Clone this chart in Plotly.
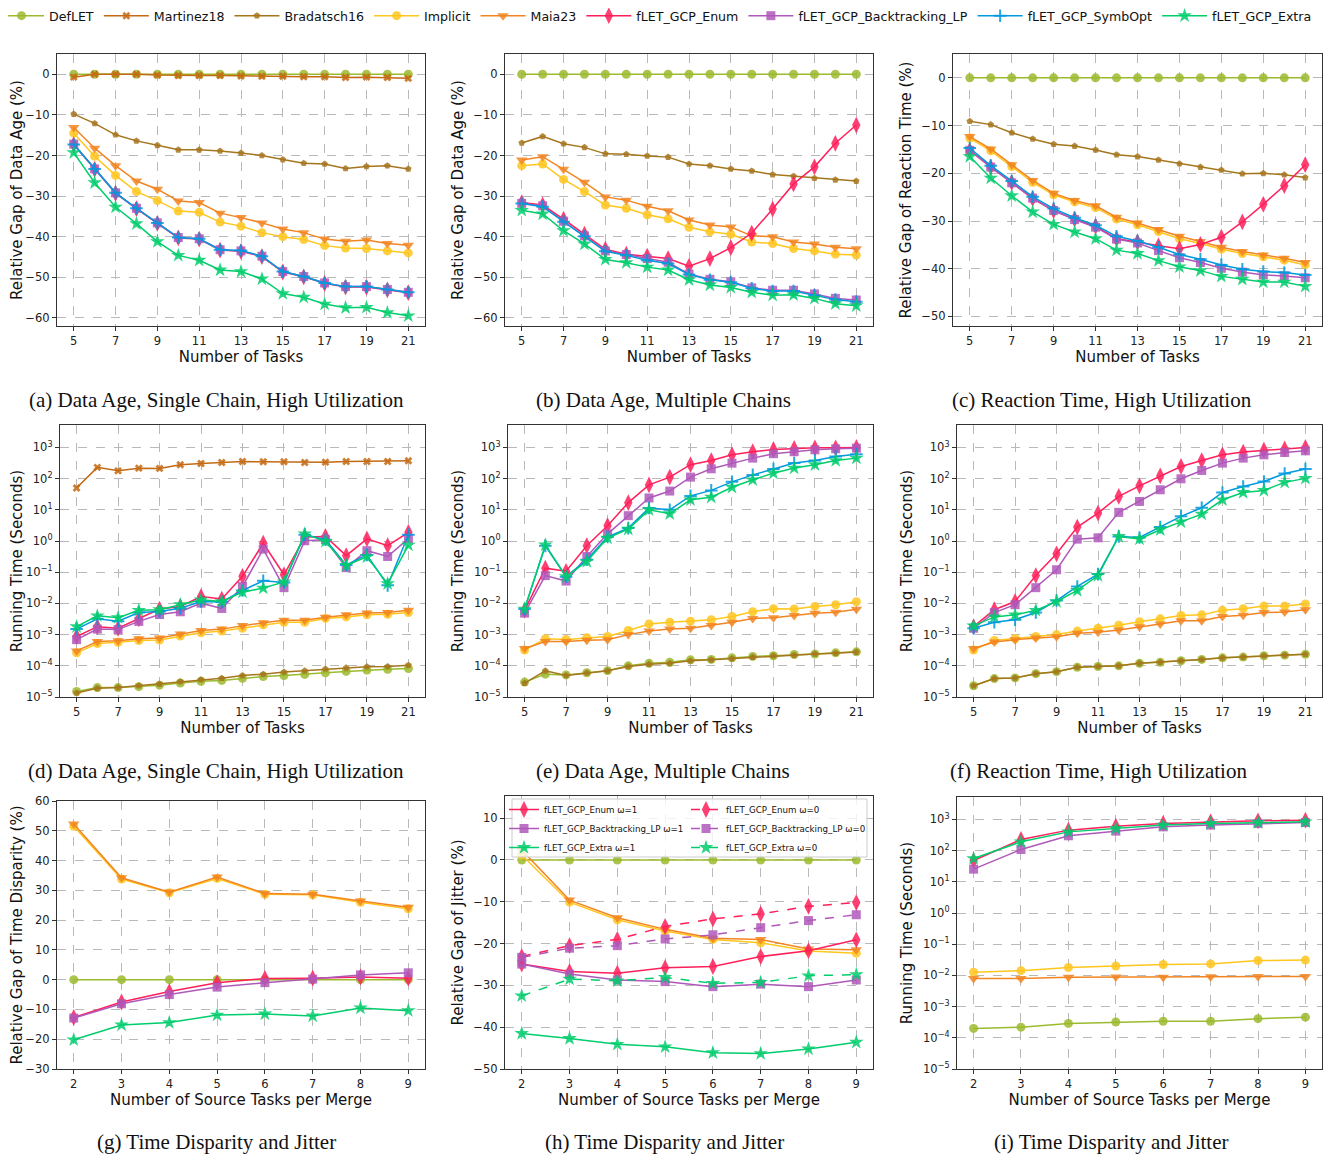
import plotly.graph_objects as go
from plotly.subplots import make_subplots

# ---------------- data ----------------
tasks = [5, 6, 7, 8, 9, 10, 11, 12, 13, 14, 15, 16, 17, 18, 19, 20, 21]
sources = [2, 3, 4, 5, 6, 7, 8, 9]

# (a) Data Age, Single Chain, High Utilization (relative gap %)
a_deflet = [0, 0, 0, 0, 0, 0, 0, 0, 0, 0, 0, 0, 0, 0, 0, 0, 0]
a_martinez = [-0.7, 0.0, 0.0, 0.0, -0.2, -0.3, -0.3, -0.3, -0.4, -0.5, -0.5, -0.6, -0.6, -0.8, -0.7, -0.8, -1.0]
a_bradatsch = [-9.8, -12.1, -14.9, -16.4, -17.5, -18.6, -18.6, -18.9, -19.4, -20.0, -21.0, -21.9, -22.1, -23.2, -22.7, -22.5, -23.3]
a_implicit = [-14.5, -20.2, -24.9, -28.9, -31.1, -33.7, -34.0, -36.4, -37.4, -39.0, -40.0, -40.7, -42.2, -42.8, -42.9, -43.5, -44.0]
a_maia = [-13.1, -18.2, -22.5, -26.3, -28.3, -31.2, -31.6, -34.2, -35.3, -36.6, -38.1, -39.0, -40.6, -41.1, -40.8, -41.7, -42.1]
a_enum = [-17.3, -23.4, -29.3, -33.1, -36.7, -40.3, -40.6, -43.3, -43.6, -44.9, -48.7, -49.9, -51.5, -52.4, -52.4, -53.1, -53.8]
a_bt = [-17.2, -23.3, -29.2, -33.0, -36.6, -40.2, -40.5, -43.2, -43.5, -44.8, -48.6, -49.8, -51.4, -52.3, -52.3, -53.0, -53.7]
a_symbopt = [-17.3, -23.3, -29.2, -33.0, -36.6, -40.2, -40.5, -43.2, -43.4, -44.8, -48.6, -49.8, -51.4, -52.3, -52.3, -53.0, -53.7]
a_extra = [-19.3, -26.7, -32.7, -36.8, -41.2, -44.6, -45.8, -48.2, -48.6, -50.4, -54.0, -54.9, -56.6, -57.5, -57.4, -58.7, -59.5]

# (b) Data Age, Multiple Chains
b_deflet = [0, 0, 0, 0, 0, 0, 0, 0, 0, 0, 0, 0, 0, 0, 0, 0, 0]
b_bradatsch = [-16.9, -15.3, -17.1, -18.0, -19.6, -19.7, -20.1, -20.4, -22.1, -22.5, -23.3, -23.8, -24.7, -25.1, -25.6, -26.0, -26.3]
b_implicit = [-22.5, -22.1, -25.9, -28.9, -32.2, -33.0, -34.6, -35.6, -37.7, -38.8, -39.4, -41.3, -41.7, -42.9, -43.5, -44.3, -44.5]
b_maia = [-21.1, -20.3, -23.4, -26.6, -30.2, -31.0, -32.5, -33.6, -35.9, -37.1, -37.6, -39.8, -40.0, -41.3, -41.8, -42.6, -43.0]
b_enum = [-31.6, -32.2, -35.7, -39.4, -43.1, -44.3, -44.8, -45.4, -47.3, -45.4, -42.7, -39.1, -33.2, -27.0, -22.8, -17.0, -12.5]
b_bt = [-31.8, -32.4, -36.2, -39.8, -43.5, -44.4, -45.4, -46.3, -49.2, -50.5, -51.1, -52.6, -53.2, -53.2, -54.1, -55.2, -55.6]
b_symbopt = [-31.8, -32.6, -36.3, -39.9, -43.6, -44.6, -45.8, -46.6, -49.3, -50.6, -51.2, -52.7, -53.4, -53.4, -54.4, -55.5, -56.0]
b_extra = [-33.5, -34.4, -38.5, -41.8, -45.6, -46.4, -47.5, -48.2, -50.6, -51.9, -52.5, -53.7, -54.4, -54.3, -55.2, -56.5, -57.0]

# (c) Reaction Time, High Utilization
c_deflet = [0, 0, 0, 0, 0, 0, 0, 0, 0, 0, 0, 0, 0, 0, 0, 0, 0]
c_bradatsch = [-9.1, -9.8, -11.5, -12.8, -13.9, -14.3, -15.1, -16.1, -16.5, -17.2, -18.0, -18.7, -19.3, -20.1, -20.0, -20.3, -20.9]
c_implicit = [-12.6, -15.3, -18.6, -21.9, -24.5, -26.0, -27.2, -29.6, -30.8, -32.2, -33.7, -34.7, -35.9, -36.8, -37.5, -38.2, -39.2]
c_maia = [-12.3, -14.9, -18.2, -21.5, -24.2, -25.7, -26.8, -29.2, -30.4, -31.8, -33.2, -34.3, -35.5, -36.4, -37.1, -37.8, -38.7]
c_enum = [-15.2, -18.7, -21.9, -25.3, -27.8, -29.6, -31.1, -33.7, -34.4, -35.2, -35.8, -34.9, -33.4, -30.2, -26.5, -22.6, -18.2]
c_bt = [-15.2, -18.7, -22.0, -25.2, -27.8, -29.7, -31.3, -33.8, -34.6, -36.2, -37.7, -38.7, -39.9, -40.7, -41.3, -41.5, -41.9]
c_symbopt = [-14.7, -18.4, -21.6, -24.9, -27.4, -29.3, -30.9, -33.2, -34.2, -35.5, -37.0, -38.0, -39.2, -40.1, -40.6, -40.8, -41.3]
c_extra = [-16.5, -21.0, -24.7, -28.1, -30.7, -32.3, -33.7, -36.1, -36.8, -38.3, -39.6, -40.4, -41.6, -42.2, -42.8, -42.8, -43.7]

# (d) Running time (s), Data Age, Single Chain
d_deflet = [1.5e-5, 2.0e-5, 2.0e-5, 2.15e-5, 2.4e-5, 2.8e-5, 3.2e-5, 3.4e-5, 4.0e-5, 4.5e-5, 4.9e-5, 5.3e-5, 6.0e-5, 6.6e-5, 7.3e-5, 7.7e-5, 8.2e-5]
d_martinez = [50, 230, 178, 217, 213, 278, 307, 330, 356, 347, 347, 330, 338, 356, 356, 356, 374]
d_bradatsch = [1.35e-5, 1.9e-5, 2.0e-5, 2.3e-5, 2.6e-5, 3.1e-5, 3.6e-5, 4.0e-5, 4.9e-5, 5.4e-5, 6.3e-5, 6.9e-5, 7.9e-5, 8.6e-5, 9.3e-5, 9.5e-5, 1.05e-4]
d_implicit = [2.6e-4, 5.2e-4, 5.7e-4, 6.5e-4, 6.7e-4, 9.0e-4, 1.15e-3, 1.3e-3, 1.6e-3, 2.05e-3, 2.5e-3, 2.5e-3, 3.3e-3, 3.7e-3, 4.3e-3, 4.5e-3, 5.1e-3]
d_maia = [3.0e-4, 6.0e-4, 6.3e-4, 7.4e-4, 7.8e-4, 1.05e-3, 1.35e-3, 1.5e-3, 1.95e-3, 2.4e-3, 2.9e-3, 2.9e-3, 3.6e-3, 4.3e-3, 4.9e-3, 5.1e-3, 6.0e-3]
d_enum = [8.7e-4, 1.8e-3, 1.6e-3, 3.2e-3, 6.6e-3, 8.0e-3, 0.0166, 0.0138, 0.074, 0.85, 0.083, 1.35, 1.4, 0.34, 1.17, 0.71, 1.9]
d_bt = [6.9e-4, 1.5e-3, 1.45e-3, 2.65e-3, 4.4e-3, 5.4e-3, 0.0102, 6.9e-3, 0.035, 0.55, 0.032, 1.02, 1.1, 0.14, 0.49, 0.32, 1.2]
d_symbopt = [1.5e-3, 3.2e-3, 2.7e-3, 5.1e-3, 5.5e-3, 7.0e-3, 0.0115, 0.0112, 0.026, 0.053, 0.047, 1.6, 1.1, 0.17, 0.36, 0.038, 1.6]
d_extra = [1.8e-3, 4.0e-3, 3.5e-3, 6.0e-3, 6.3e-3, 9.1e-3, 0.013, 0.0115, 0.023, 0.031, 0.049, 1.7, 0.98, 0.165, 0.31, 0.043, 0.74]

# (e) Running time (s), Data Age, Multiple Chains
e_deflet = [3.0e-5, 5.4e-5, 5.1e-5, 6.0e-5, 7.0e-5, 1.0e-4, 1.2e-4, 1.3e-4, 1.55e-4, 1.6e-4, 1.8e-4, 2.0e-4, 2.1e-4, 2.3e-4, 2.4e-4, 2.6e-4, 2.8e-4]
e_bradatsch = [2.8e-5, 6.9e-5, 4.9e-5, 5.9e-5, 6.9e-5, 9.5e-5, 1.12e-4, 1.2e-4, 1.45e-4, 1.55e-4, 1.7e-4, 1.9e-4, 2.1e-4, 2.2e-4, 2.4e-4, 2.55e-4, 2.75e-4]
e_implicit = [3.2e-4, 7.4e-4, 7.0e-4, 8.0e-4, 8.7e-4, 1.35e-3, 2.2e-3, 2.5e-3, 2.7e-3, 3.0e-3, 3.8e-3, 5.4e-3, 6.8e-3, 6.6e-3, 8.0e-3, 9.1e-3, 0.0113]
e_maia = [3.6e-4, 6.0e-4, 6.0e-4, 6.6e-4, 6.8e-4, 1.0e-3, 1.3e-3, 1.5e-3, 1.6e-3, 1.95e-3, 2.5e-3, 3.3e-3, 3.5e-3, 4.1e-3, 4.8e-3, 5.2e-3, 6.5e-3]
e_enum = [6.0e-3, 0.135, 0.107, 0.71, 3.1, 17, 63, 112, 280, 380, 580, 730, 860, 930, 975, 975, 1000]
e_bt = [4.9e-3, 0.078, 0.052, 0.32, 1.7, 6.5, 24, 40, 112, 207, 315, 455, 630, 730, 840, 905, 950]
e_symbopt = [6.6e-3, 0.7, 0.072, 0.25, 1.35, 2.6, 11.5, 10, 28, 42, 79, 132, 203, 315, 380, 515, 610]
e_extra = [6.6e-3, 0.75, 0.072, 0.22, 1.25, 2.4, 10, 7.5, 21, 25.5, 53, 92, 150, 218, 280, 380, 455]

# (f) Running time (s), Reaction Time, High Utilization
f_deflet = [2.3e-5, 3.9e-5, 4.1e-5, 5.6e-5, 6.5e-5, 9.0e-5, 9.5e-5, 1.0e-4, 1.2e-4, 1.3e-4, 1.45e-4, 1.6e-4, 1.8e-4, 1.9e-4, 2.1e-4, 2.2e-4, 2.35e-4]
f_bradatsch = [2.3e-5, 3.9e-5, 4.1e-5, 5.6e-5, 6.5e-5, 9.0e-5, 9.5e-5, 1.0e-4, 1.2e-4, 1.3e-4, 1.45e-4, 1.6e-4, 1.8e-4, 1.9e-4, 2.1e-4, 2.2e-4, 2.35e-4]
f_implicit = [3.2e-4, 6.5e-4, 7.5e-4, 8.7e-4, 1.0e-3, 1.3e-3, 1.6e-3, 2.0e-3, 2.6e-3, 3.2e-3, 4.1e-3, 4.3e-3, 6.0e-3, 6.8e-3, 8.2e-3, 8.2e-3, 9.6e-3]
f_maia = [3.6e-4, 5.8e-4, 6.9e-4, 7.8e-4, 8.6e-4, 1.1e-3, 1.2e-3, 1.4e-3, 1.8e-3, 2.2e-3, 2.8e-3, 2.8e-3, 3.8e-3, 4.2e-3, 5.1e-3, 5.3e-3, 6.3e-3]
f_enum = [1.8e-3, 6.3e-3, 0.0115, 0.078, 0.39, 2.8, 7.9, 27, 59, 123, 245, 380, 580, 710, 820, 900, 1000]
f_bt = [1.6e-3, 5.1e-3, 9.1e-3, 0.032, 0.12, 1.15, 1.27, 8.3, 18.6, 44, 99, 183, 315, 455, 580, 690, 780]
f_symbopt = [1.6e-3, 2.5e-3, 3.0e-3, 5.1e-3, 0.0124, 0.035, 0.087, 1.4, 1.3, 2.8, 6.2, 11.7, 36, 56, 81, 147, 203]
f_extra = [1.9e-3, 3.7e-3, 4.3e-3, 6.0e-3, 0.0115, 0.026, 0.078, 1.4, 1.17, 2.3, 4.1, 7.3, 21, 36, 42, 76, 102]

# (g) Time Disparity (relative gap %)
g_deflet = [0, 0, 0, 0, 0, 0, 0, 0]
g_implicit = [51.5, 33.8, 29.2, 34.0, 28.7, 28.5, 26.0, 23.8]
g_maia = [52.3, 34.2, 29.4, 34.5, 28.9, 28.7, 26.4, 24.3]
g_enum = [-12.7, -7.5, -4.0, -1.0, 0.4, 0.5, 0.9, 0.5]
g_bt = [-12.9, -8.1, -5.0, -2.5, -1.0, 0.2, 1.6, 2.3]
g_extra = [-20.2, -15.2, -14.4, -11.9, -11.5, -12.2, -9.5, -10.4]

# (h) Jitter (relative gap %)
h_deflet = [0, 0, 0, 0, 0, 0, 0, 0]
h_implicit = [1.2, -10.1, -14.3, -17.0, -19.0, -19.8, -21.8, -22.3]
h_maia = [2.4, -9.6, -13.8, -16.6, -18.7, -19.0, -21.3, -21.5]
h_enum_w1 = [-24.9, -26.7, -27.1, -25.8, -25.5, -23.1, -21.7, -19.1]
h_bt_w1 = [-24.9, -27.3, -28.7, -29.1, -30.3, -29.7, -30.3, -28.7]
h_extra_w1 = [-41.5, -42.7, -44.1, -44.7, -46.1, -46.3, -45.2, -43.6]
h_enum_w0 = [-23.1, -20.5, -19.0, -15.9, -14.1, -12.9, -11.1, -10.2]
h_bt_w0 = [-23.3, -21.1, -20.5, -18.9, -17.9, -16.2, -14.5, -13.1]
h_extra_w0 = [-32.5, -28.5, -28.9, -28.1, -29.5, -29.3, -27.7, -27.4]

# (i) Running time (s), Time Disparity and Jitter
i_deflet = [2.0e-4, 2.2e-4, 2.9e-4, 3.2e-4, 3.4e-4, 3.4e-4, 4.1e-4, 4.6e-4]
i_implicit = [0.0126, 0.0142, 0.018, 0.020, 0.0224, 0.0234, 0.030, 0.031]
i_maia = [7.9e-3, 7.9e-3, 8.7e-3, 8.9e-3, 8.7e-3, 9.1e-3, 9.3e-3, 9.3e-3]
i_enum = [48, 228, 455, 610, 745, 840, 905, 950]
i_bt = [25.5, 109, 300, 423, 580, 660, 745, 800]
i_extra = [56, 192, 400, 515, 660, 745, 800, 840]

log_tickvals = [1e-5, 1e-4, 1e-3, 1e-2, 1e-1, 1e0, 1e1, 1e2, 1e3]
log_ticktext = ["10<sup>\u22125</sup>", "10<sup>\u22124</sup>", "10<sup>\u22123</sup>", "10<sup>\u22122</sup>",
                "10<sup>\u22121</sup>", "10<sup>0</sup>", "10<sup>1</sup>", "10<sup>2</sup>", "10<sup>3</sup>"]

captions = ["(a) Data Age, Single Chain, High Utilization", "(b) Data Age, Multiple Chains",
            "(c) Reaction Time, High Utilization", "(d) Data Age, Single Chain, High Utilization",
            "(e) Data Age, Multiple Chains", "(f) Reaction Time, High Utilization",
            "(g) Time Disparity and Jitter", "(h) Time Disparity and Jitter", "(i) Time Disparity and Jitter"]

# ---------------- styles ----------------
W, H = 1337, 1159
OFF = 8  # page body margin of the html page
FONT = "DejaVu Sans"


def px_x(p):
    return (p - OFF) / W


def px_y(p):
    return 1 - (p - OFF) / H


styles = {
    "DefLET": dict(color="#9cba2e", symbol="circle", size=9),
    "Martinez18": dict(color="#c46a12", symbol="x", size=7),
    "Bradatsch16": dict(color="#a6761d", symbol="pentagon", size=7),
    "Implicit": dict(color="#ffc61e", symbol="circle", size=9),
    "Maia23": dict(color="#f28522", symbol="triangle-down", size=10),
    "fLET_GCP_Enum": dict(color="#ff1f5b", symbol="diamond-tall", size=12),
    "fLET_GCP_Backtracking_LP": dict(color="#af58ba", symbol="square", size=9),
    "fLET_GCP_SymbOpt": dict(color="#009ade", symbol="cross-thin", size=9),
    "fLET_GCP_Extra": dict(color="#00cd6c", symbol="star", size=11),
}

fig = make_subplots(rows=3, cols=3)


def add(idx, method, x, y, name=None, dash="solid", legend="legend", showlegend=False):
    st = styles[method]
    r, c = (idx - 1) // 3 + 1, (idx - 1) % 3 + 1
    marker = dict(symbol=st["symbol"], size=st["size"], color=st["color"], opacity=0.85)
    if st["symbol"] == "cross-thin":
        marker["line"] = dict(width=2, color=st["color"])
    else:
        marker["line"] = dict(width=0)
    fig.add_trace(go.Scatter(x=x, y=y, mode="lines+markers", name=name or method,
                             line=dict(color=st["color"], width=1.5, dash=dash),
                             marker=marker, legend=legend, showlegend=showlegend,
                             legendgroup=(name or method) if legend == "legend" else None),
                  row=r, col=c)


# (a)
for m, y in [("DefLET", a_deflet), ("Martinez18", a_martinez), ("Bradatsch16", a_bradatsch),
             ("Implicit", a_implicit), ("Maia23", a_maia), ("fLET_GCP_Enum", a_enum),
             ("fLET_GCP_Backtracking_LP", a_bt), ("fLET_GCP_SymbOpt", a_symbopt), ("fLET_GCP_Extra", a_extra)]:
    add(1, m, tasks, y, showlegend=True)
# (b)
for m, y in [("DefLET", b_deflet), ("Bradatsch16", b_bradatsch), ("Implicit", b_implicit), ("Maia23", b_maia),
             ("fLET_GCP_Enum", b_enum), ("fLET_GCP_Backtracking_LP", b_bt), ("fLET_GCP_SymbOpt", b_symbopt),
             ("fLET_GCP_Extra", b_extra)]:
    add(2, m, tasks, y)
# (c)
for m, y in [("DefLET", c_deflet), ("Bradatsch16", c_bradatsch), ("Implicit", c_implicit), ("Maia23", c_maia),
             ("fLET_GCP_Enum", c_enum), ("fLET_GCP_Backtracking_LP", c_bt), ("fLET_GCP_SymbOpt", c_symbopt),
             ("fLET_GCP_Extra", c_extra)]:
    add(3, m, tasks, y)
# (d)
for m, y in [("DefLET", d_deflet), ("Martinez18", d_martinez), ("Bradatsch16", d_bradatsch),
             ("Implicit", d_implicit), ("Maia23", d_maia), ("fLET_GCP_Enum", d_enum),
             ("fLET_GCP_Backtracking_LP", d_bt), ("fLET_GCP_SymbOpt", d_symbopt), ("fLET_GCP_Extra", d_extra)]:
    add(4, m, tasks, y)
# (e)
for m, y in [("DefLET", e_deflet), ("Bradatsch16", e_bradatsch), ("Implicit", e_implicit), ("Maia23", e_maia),
             ("fLET_GCP_Enum", e_enum), ("fLET_GCP_Backtracking_LP", e_bt), ("fLET_GCP_SymbOpt", e_symbopt),
             ("fLET_GCP_Extra", e_extra)]:
    add(5, m, tasks, y)
# (f)
for m, y in [("DefLET", f_deflet), ("Bradatsch16", f_bradatsch), ("Implicit", f_implicit), ("Maia23", f_maia),
             ("fLET_GCP_Enum", f_enum), ("fLET_GCP_Backtracking_LP", f_bt), ("fLET_GCP_SymbOpt", f_symbopt),
             ("fLET_GCP_Extra", f_extra)]:
    add(6, m, tasks, y)
# (g)
for m, y in [("DefLET", g_deflet), ("Implicit", g_implicit), ("Maia23", g_maia),
             ("fLET_GCP_Enum", g_enum), ("fLET_GCP_Backtracking_LP", g_bt), ("fLET_GCP_Extra", g_extra)]:
    add(7, m, sources, y)
# (h)
for m, y in [("DefLET", h_deflet), ("Implicit", h_implicit), ("Maia23", h_maia)]:
    add(8, m, sources, y)
for m, y, nm in [("fLET_GCP_Enum", h_enum_w1, "fLET_GCP_Enum \u03c9=1"),
                 ("fLET_GCP_Backtracking_LP", h_bt_w1, "fLET_GCP_Backtracking_LP \u03c9=1"),
                 ("fLET_GCP_Extra", h_extra_w1, "fLET_GCP_Extra \u03c9=1")]:
    add(8, m, sources, y, name=nm, legend="legend2", showlegend=True)
for m, y, nm in [("fLET_GCP_Enum", h_enum_w0, "fLET_GCP_Enum \u03c9=0"),
                 ("fLET_GCP_Backtracking_LP", h_bt_w0, "fLET_GCP_Backtracking_LP \u03c9=0"),
                 ("fLET_GCP_Extra", h_extra_w0, "fLET_GCP_Extra \u03c9=0")]:
    add(8, m, sources, y, name=nm, dash="dash", legend="legend3", showlegend=True)
# (i)
for m, y in [("DefLET", i_deflet), ("Implicit", i_implicit), ("Maia23", i_maia),
             ("fLET_GCP_Enum", i_enum), ("fLET_GCP_Backtracking_LP", i_bt), ("fLET_GCP_Extra", i_extra)]:
    add(9, m, sources, y)

# ---------------- layout ----------------
frames = {1: (57, 425, 54, 326), 2: (505, 873, 54, 326), 3: (953, 1322, 54, 326),
          4: (60, 425, 425, 697), 5: (508, 873, 425, 697), 6: (957, 1322, 425, 697),
          7: (57, 425, 801, 1069), 8: (505, 873, 796, 1069), 9: (957, 1322, 797, 1069)}
ytitles = ["Relative Gap of Data Age (%)", "Relative Gap of Data Age (%)", "Relative Gap of Reaction Time (%)",
           "Running Time (Seconds)", "Running Time (Seconds)", "Running Time (Seconds)",
           "Relative Gap of Time Disparity (%)", "Relative Gap of Jitter (%)", "Running Time (Seconds)"]

axis_common = dict(showline=True, mirror=True, linecolor="#333333", linewidth=1.3,
                   ticks="outside", ticklen=4, tickcolor="#333333", tickwidth=1,
                   showgrid=True, gridcolor="#b9b9b9", griddash="dash", gridwidth=0.8,
                   zeroline=False, tickfont=dict(family=FONT, size=11.5, color="#222222"))

for i in range(1, 10):
    x0, x1, y0, y1 = frames[i]
    xa = dict(axis_common)
    ya = dict(axis_common)
    xa["domain"] = [px_x(x0), px_x(x1)]
    ya["domain"] = [px_y(y1), px_y(y0)]
    if i <= 6:
        xa.update(range=[4.2, 21.8], tickmode="array", tickvals=[5, 7, 9, 11, 13, 15, 17, 19, 21],
                  title=dict(text="Number of Tasks", font=dict(family=FONT, size=15, color="#111"), standoff=4))
    else:
        xa.update(range=[1.65, 9.35], tickmode="array", tickvals=[2, 3, 4, 5, 6, 7, 8, 9],
                  title=dict(text="Number of Source Tasks per Merge", font=dict(family=FONT, size=15, color="#111"),
                             standoff=4))
    ya["title"] = dict(text=ytitles[i - 1], font=dict(family=FONT, size=15, color="#111"), standoff=6)
    if i in (1, 2):
        ya.update(range=[-62, 5], tickmode="array", tickvals=[0, -10, -20, -30, -40, -50, -60])
    elif i == 3:
        ya.update(range=[-52, 5], tickmode="array", tickvals=[0, -10, -20, -30, -40, -50])
    elif i in (4, 5, 6, 9):
        ya.update(type="log", range=[-5, 3.72], tickmode="array", tickvals=log_tickvals, ticktext=log_ticktext)
    elif i == 7:
        ya.update(range=[-30, 60], tickmode="array", tickvals=[-30, -20, -10, 0, 10, 20, 30, 40, 50, 60])
    elif i == 8:
        ya.update(range=[-50, 15.3], tickmode="array", tickvals=[-50, -40, -30, -20, -10, 0, 10])
    sfx = "" if i == 1 else str(i)
    fig.layout["xaxis" + sfx].update(xa)
    fig.layout["yaxis" + sfx].update(ya)

cap_pos = [(216, 400), (663, 400), (1102, 400), (216, 771), (663, 771), (1098, 771),
           (216, 1142), (664, 1142), (1111, 1142)]
annotations = []
for txt, (cx, cy) in zip(captions, cap_pos):
    annotations.append(dict(text=txt, x=px_x(cx), y=px_y(cy), xref="paper", yref="paper",
                            xanchor="center", yanchor="middle", showarrow=False,
                            font=dict(family="Liberation Serif", size=21, color="#111111")))

fig.update_layout(
    width=W, height=H, margin=dict(l=0, r=0, t=0, b=0, autoexpand=False),
    paper_bgcolor="white", plot_bgcolor="white",
    annotations=annotations,
    legend=dict(orientation="h", x=px_x(-6), y=px_y(1), xanchor="left", yanchor="top",
                font=dict(family=FONT, size=12.6, color="#111"), bgcolor="rgba(0,0,0,0)",
                traceorder="normal", itemwidth=45),
    legend2=dict(x=px_x(504), y=px_y(795), xanchor="left", yanchor="top",
                 font=dict(family=FONT, size=8.7, color="#111"), bgcolor="rgba(0,0,0,0)", tracegroupgap=0,
                 itemwidth=30),
    legend3=dict(x=px_x(686), y=px_y(795), xanchor="left", yanchor="top",
                 font=dict(family=FONT, size=8.7, color="#111"), bgcolor="rgba(0,0,0,0)", tracegroupgap=0,
                 itemwidth=30),
    shapes=[dict(type="rect", xref="paper", yref="paper", x0=px_x(512), x1=px_x(867),
                 y0=px_y(857), y1=px_y(799), line=dict(color="#cccccc", width=1),
                 fillcolor="rgba(255,255,255,0.8)", layer="above")],
)

fig.write_html("out.html")
